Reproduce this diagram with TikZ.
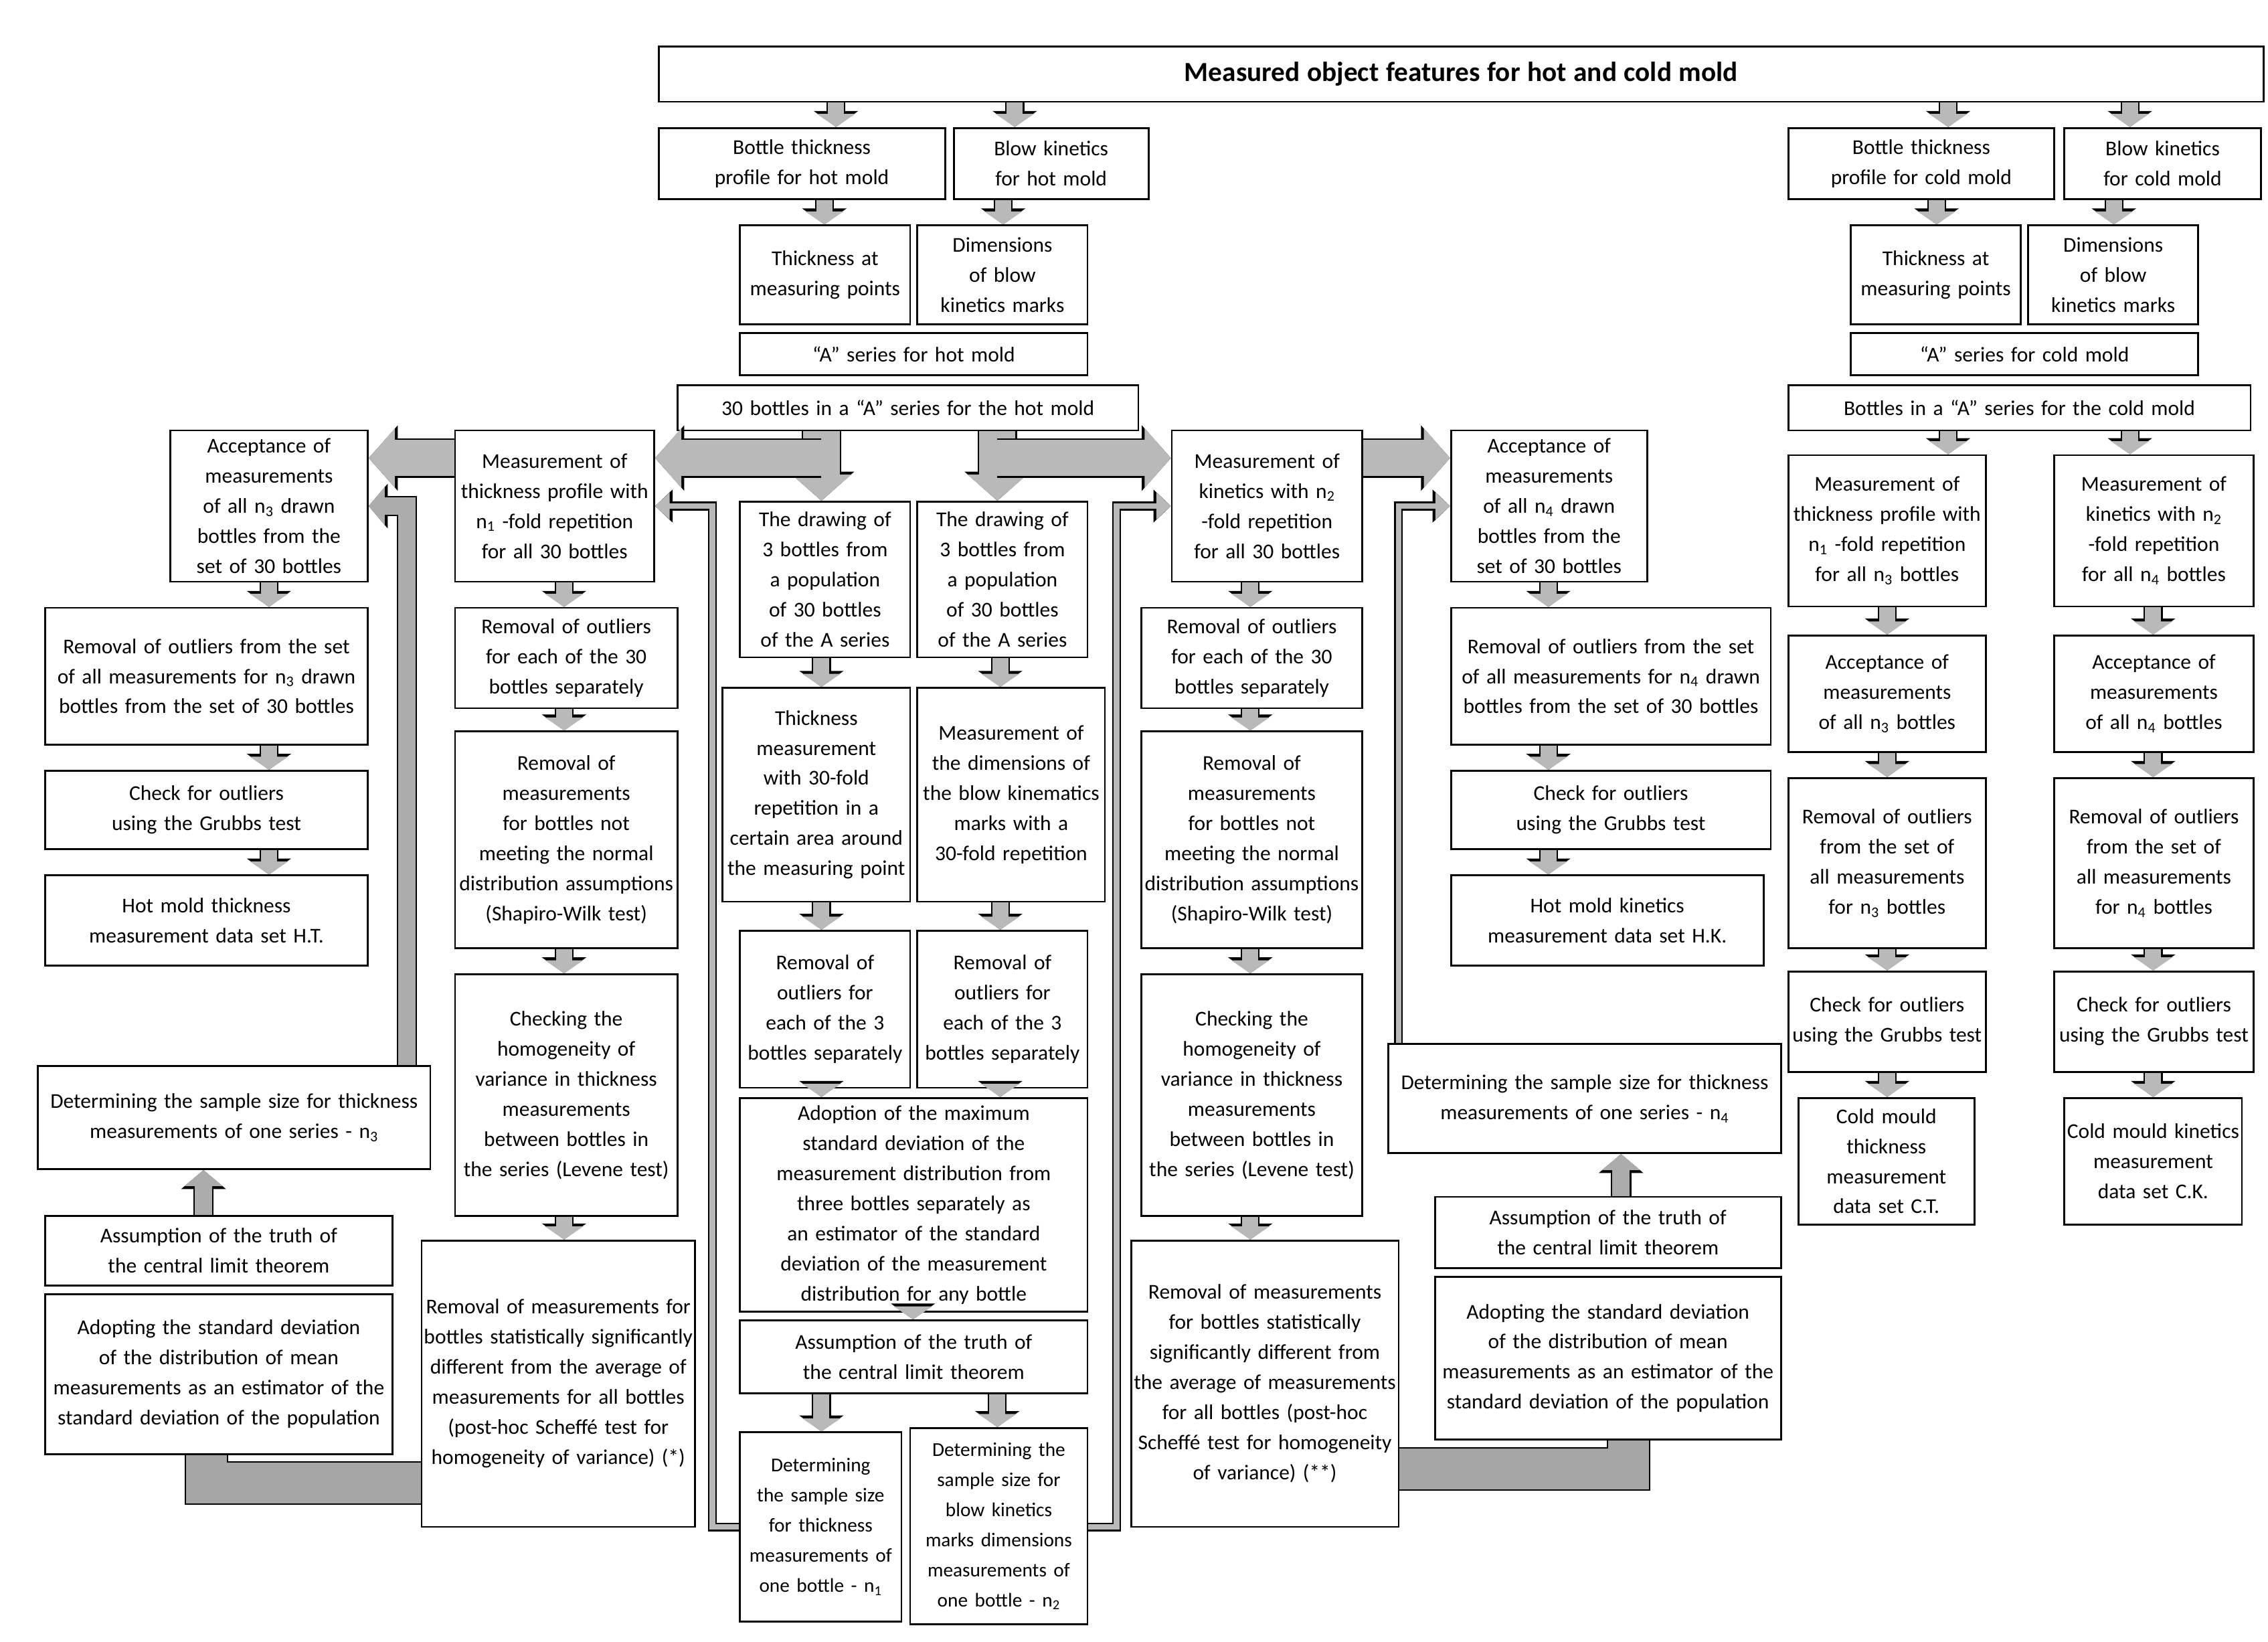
\documentclass[tikz,border=0pt]{standalone}
\usepackage{fontspec}
\setmainfont{Carlito}
\usetikzlibrary{arrows.meta,calc}
\newcommand\sub[1]{\textsubscript{#1}}
\tikzset{
  box/.style={draw, line width=1.3pt, align=center, inner sep=1pt, font=\fontsize{14.5}{20.7}\selectfont},
  darr/.style={preaction={draw=black,line width=13pt,-{Triangle[length=11pt,width=30pt]}}, draw=gray!55, line width=11pt, -{Triangle[length=9pt,width=26pt]}},
  band/.style={preaction={draw=black,line width=27pt,-{Triangle[length=20pt,width=44pt]}}, draw=gray!55, line width=25pt, -{Triangle[length=18pt,width=40pt]}},
  bandn/.style={preaction={draw=black,line width=30pt}, draw=gray!70, line width=28pt},
  mid/.style={preaction={draw=black,line width=14pt,-{Triangle[length=13pt,width=30pt]}}, draw=gray!65, line width=12pt, -{Triangle[length=11pt,width=26pt]}},
  thin/.style={preaction={draw=black,line width=6pt,-{Triangle[length=12pt,width=22pt]}}, draw=gray!55, line width=4pt, -{Triangle[length=10pt,width=18pt]}},
}
\newcommand\bx[6]{%
  \pgfmathsetmacro\bw{#4-#2}\pgfmathsetmacro\bh{#5-#3}\pgfmathsetmacro\tw{#4-#2-3}%
  \node[box, minimum width=\bw pt, minimum height=\bh pt, text width=\tw pt] (#1) at ({(#2+#4)/2},{(#3+#5)/2}) {#6};}
\begin{document}
\hyphenpenalty=10000 \exhyphenpenalty=10000
\begin{tikzpicture}[x=1pt,y=-1pt]
\useasboundingbox[fill=white] (0,0) rectangle (1560,1129);
\bx{top}{453}{32}{1557}{70}{\fontsize{19}{22}\selectfont\bfseries Measured object features for hot and cold mold}
\bx{b1}{453}{88}{650}{137}{Bottle thickness profile for hot mold}
\bx{b2}{656}{88}{790}{137}{Blow kinetics for hot mold}
\bx{b3}{509}{155}{626}{223}{Thickness at measuring points}
\bx{b4}{631}{155}{748}{223}{Dimensions of blow kinetics marks}
\bx{b5}{509}{229}{748}{258}{“A” series for hot mold}
\bx{b6}{466}{265}{783}{296}{30 bottles in a “A” series for the hot mold}
\bx{c1}{1230}{88}{1413}{137}{Bottle thickness profile for cold mold}
\bx{c2}{1420}{88}{1555}{137}{Blow kinetics for cold mold}
\bx{c3}{1273}{155}{1390}{223}{Thickness at measuring points}
\bx{c4}{1395}{155}{1512}{223}{Dimensions of blow kinetics marks}
\bx{c5}{1273}{229}{1512}{258}{“A” series for cold mold}
\bx{c6}{1230}{265}{1548}{296}{Bottles in a “A” series for the cold mold}
\bx{c7}{1230}{313}{1366}{417}{Measurement of thickness profile with n\sub{1} -fold repetition for all n\sub{3} bottles}
\bx{c8}{1413}{313}{1550}{417}{Measurement of kinetics with n\sub{2} -fold repetition for all n\sub{4} bottles}
\bx{c9}{1230}{437}{1366}{517}{Acceptance of measurements of all n\sub{3} bottles}
\bx{c10}{1413}{437}{1550}{517}{Acceptance of measurements of all n\sub{4} bottles}
\bx{c11}{1230}{535}{1366}{652}{Removal of outliers from the set of all measurements for n\sub{3} bottles}
\bx{c12}{1413}{535}{1550}{652}{Removal of outliers from the set of all measurements for n\sub{4} bottles}
\bx{c13}{1230}{668}{1366}{737}{Check for outliers using the Grubbs test}
\bx{c14}{1413}{668}{1550}{737}{Check for outliers using the Grubbs test}
\bx{c15}{1237}{755}{1358}{842}{Cold mould thickness measurement data set C.T.}
\bx{c16}{1420}{755}{1542}{842}{Cold mould kinetics measurement data set C.K.}
\bx{l1}{117}{296}{253}{400}{Acceptance of measurements of all n\sub{3} drawn bottles from the set of 30 bottles}
\bx{l2}{31}{418}{253}{512}{Removal of outliers from the set of all measurements for n\sub{3} drawn bottles from the set of 30 bottles}
\bx{l3}{31}{530}{253}{584}{Check for outliers using the Grubbs test}
\bx{l4}{31}{602}{253}{664}{Hot mold thickness measurement data set H.T.}
\bx{l5}{26}{733}{296}{804}{Determining the sample size for thickness measurements of one series - n\sub{3}}
\bx{l6}{31}{836}{270}{884}{Assumption of the truth of the central limit theorem}
\bx{l7}{31}{890}{270}{1000}{Adopting the standard deviation of the distribution of mean measurements as an estimator of the standard deviation of the population}
\bx{m1}{313}{296}{450}{400}{Measurement of thickness profile with n\sub{1} -fold repetition for all 30 bottles}
\bx{m2}{313}{418}{466}{487}{Removal of outliers for each of the 30 bottles separately}
\bx{m3}{313}{503}{466}{652}{Removal of measurements for bottles not meeting the normal distribution assumptions (Shapiro-Wilk test)}
\bx{m4}{313}{670}{466}{836}{Checking the homogeneity of variance in thickness measurements between bottles in the series (Levene test)}
\bx{m5}{290}{853}{478}{1050}{Removal of measurements for bottles statistically significantly different from the average of measurements for all bottles (post-hoc Scheffé test for homogeneity of variance) (*)}
\bx{d1}{509}{345}{626}{452}{The drawing of 3 bottles from a population of 30 bottles of the A series}
\bx{d2}{631}{345}{748}{452}{The drawing of 3 bottles from a population of 30 bottles of the A series}
\bx{d3}{497}{473}{626}{620}{Thickness measurement with 30-fold repetition in a certain area around the measuring point}
\bx{d4}{631}{473}{760}{620}{Measurement of the dimensions of the blow kinematics marks with a 30-fold repetition}
\bx{d5}{509}{640}{626}{748}{Removal of outliers for each of the 3 bottles separately}
\bx{d6}{631}{640}{748}{748}{Removal of outliers for each of the 3 bottles separately}
\bx{d7}{509}{755}{748}{902}{Adoption of the maximum standard deviation of the measurement distribution from three bottles separately as an estimator of the standard deviation of the measurement distribution for any bottle}
\bx{d8}{509}{908}{748}{958}{Assumption of the truth of the central limit theorem}
\bx{d9}{509}{985}{620}{1115}{\fontsize{13.5}{19.5}\selectfont Determining the sample size for thickness measurements of one bottle - n\sub{1}}
\bx{d10}{626}{982}{748}{1117}{\fontsize{13.5}{19.5}\selectfont Determining the sample size for blow kinetics marks dimensions measurements of one bottle - n\sub{2}}
\bx{r1}{806}{296}{937}{400}{Measurement of kinetics with n\sub{2} -fold repetition for all 30 bottles}
\bx{r2}{785}{418}{937}{487}{Removal of outliers for each of the 30 bottles separately}
\bx{r3}{785}{503}{937}{652}{Removal of measurements for bottles not meeting the normal distribution assumptions (Shapiro-Wilk test)}
\bx{r4}{785}{670}{937}{836}{Checking the homogeneity of variance in thickness measurements between bottles in the series (Levene test)}
\bx{r5}{778}{853}{962}{1050}{Removal of measurements for bottles statistically significantly different from the average of measurements for all bottles (post-hoc Scheffé test for homogeneity of variance) (**)}
\bx{s1}{998}{296}{1133}{400}{Acceptance of measurements of all n\sub{4} drawn bottles from the set of 30 bottles}
\bx{s2}{998}{418}{1218}{512}{Removal of outliers from the set of all measurements for n\sub{4} drawn bottles from the set of 30 bottles}
\bx{s3}{998}{530}{1218}{584}{Check for outliers using the Grubbs test}
\bx{s4}{998}{602}{1213}{664}{Hot mold kinetics measurement data set H.K.}
\bx{s5}{955}{718}{1225}{793}{Determining the sample size for thickness measurements of one series - n\sub{4}}
\bx{s6}{987}{823}{1225}{872}{Assumption of the truth of the central limit theorem}
\bx{s7}{987}{878}{1225}{990}{Adopting the standard deviation of the distribution of mean measurements as an estimator of the standard deviation of the population}
% small down arrows
\foreach \a/\b/\x in {top/b1/575, top/b2/698, b1/b3/567, b2/b4/690, top/c1/1340, top/c2/1465, c1/c3/1332, c2/c4/1454,
  c6/c7/1340, c6/c8/1465, c7/c9/1298, c8/c10/1481, c9/c11/1298, c10/c12/1481, c11/c13/1298, c12/c14/1481, c13/c15/1298, c14/c16/1481,
  l1/l2/185, l2/l3/185, l3/l4/185, m1/m2/388, m2/m3/388, m3/m4/388, m4/m5/388,
  r1/r2/860, r2/r3/860, r3/r4/860, r4/r5/860, s1/s2/1065, s2/s3/1065, s3/s4/1065,
  d1/d3/565, d2/d4/688, d3/d5/565, d4/d6/688, d5/d7/565, d6/d7/688, d7/d8/628, d8/d9/565, d8/d10/686}
  \draw[darr] (\a.south -| \x,0) -- (\b.north -| \x,0);
\draw[mid] (l6.north -| 140,0) -- (l5.south -| 140,0);
\draw[mid] (s6.north -| 1115,0) -- (s5.south -| 1115,0);
% big arrows
\draw[band] (b6.south -| 565,0) -- (d1.north -| 565,0);
\draw[band] (b6.south -| 686,0) -- (d2.north -| 686,0);
\draw[band] (565,315) -- (m1.east |- 0,315);
\draw[band] (686,315) -- (r1.west |- 0,315);
\draw[band] (m1.west |- 0,315) -- (l1.east |- 0,315);
\draw[band] (r1.east |- 0,315) -- (s1.west |- 0,315);
% bottom bands
\draw[bandn] (l7.south -| 142,0) -- (142,1020) -- (m5.west |- 0,1020);
\draw[bandn] (s7.south -| 1120,0) -- (1120,1010) -- (r5.east |- 0,1010);
% return connectors
\draw[mid] (l5.north -| 280,0) -- (280,348) -- (l1.east |- 0,348);
\draw[thin] (d9.west |- 0,1050) -- (490,1050) -- (490,348) -- (m1.east |- 0,348);
\draw[thin] (d10.east |- 0,1050) -- (768,1050) -- (768,348) -- (r1.west |- 0,348);
\draw[thin] (s5.north -| 962,0) -- (962,348) -- (s1.west |- 0,348);
\end{tikzpicture}
\end{document}
